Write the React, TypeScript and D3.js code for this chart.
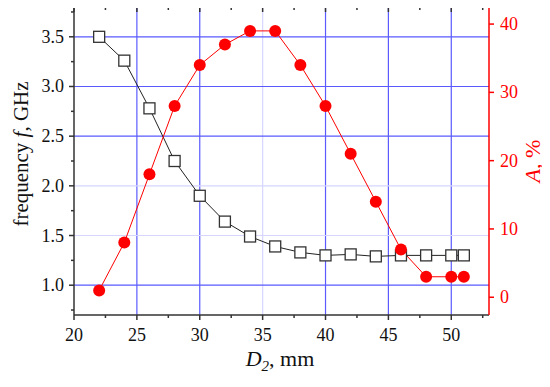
import React, { useRef, useEffect } from 'react';
import * as d3 from 'd3';

const diameters = [22, 24, 26, 28, 30, 32, 34, 36, 38, 40, 42, 44, 46, 48, 50, 51];
const frequency = [3.5, 3.26, 2.78, 2.25, 1.9, 1.64, 1.49, 1.39, 1.33, 1.3, 1.31, 1.29, 1.3, 1.3, 1.3, 1.3];
const absorption = [1, 8, 18, 28, 34, 37, 39, 39, 34, 28, 21, 14, 7, 3, 3, 3];

const xTicks = [20, 25, 30, 35, 40, 45, 50];
const xMinor = [22.5, 27.5, 32.5, 37.5, 42.5, 47.5, 52.5];
const yTicks = [1.0, 1.5, 2.0, 2.5, 3.0, 3.5];
const yMinor = [0.75, 1.25, 1.75, 2.25, 2.75, 3.25, 3.75];
const aTicks = [0, 10, 20, 30, 40];
const strongX = [25, 30, 40, 45, 50];
const strongY = [1.0, 2.5, 3.0, 3.5];

const App = () => {
    const ref = useRef<SVGSVGElement>(null);

    useEffect(() => {
        const svg = d3.select(ref.current);
        svg.selectAll('*').remove();

        const width = 550;
        const height = 387;
        const margin = { top: 7, right: 61, bottom: 72, left: 74 };
        const font = '"Liberation Serif", "Times New Roman", serif';

        const x = d3.scaleLinear().domain([20, 53]).range([margin.left, width - margin.right]);
        const y = d3.scaleLinear().domain([0.7, 3.8]).range([height - margin.bottom, margin.top]);
        const yA = d3.scaleLinear().domain([-2.6, 42.5]).range([height - margin.bottom, margin.top]);

        const top = margin.top;
        const bottom = height - margin.bottom;
        const left = margin.left;
        const right = width - margin.right;

        // grid
        const grid = svg.append('g');
        grid.selectAll('.vg')
            .data(xTicks.filter(t => t > 20))
            .enter()
            .append('line')
            .attr('x1', d => x(d))
            .attr('x2', d => x(d))
            .attr('y1', top)
            .attr('y2', bottom)
            .attr('stroke', d => (strongX.includes(d) ? '#5a5aff' : '#d6d6ff'))
            .attr('stroke-width', 1.2);
        grid.selectAll('.hg')
            .data(yTicks)
            .enter()
            .append('line')
            .attr('x1', left)
            .attr('x2', right)
            .attr('y1', d => y(d))
            .attr('y2', d => y(d))
            .attr('stroke', d => (strongY.includes(d) ? '#5a5aff' : '#d6d6ff'))
            .attr('stroke-width', 1.2);

        // frame
        svg.append('line').attr('x1', left).attr('x2', right).attr('y1', top).attr('y2', top)
            .attr('stroke', '#333').attr('stroke-width', 1.5);
        svg.append('line').attr('x1', left).attr('x2', right).attr('y1', bottom).attr('y2', bottom)
            .attr('stroke', '#333').attr('stroke-width', 1.5);
        svg.append('line').attr('x1', left).attr('x2', left).attr('y1', top).attr('y2', bottom)
            .attr('stroke', '#333').attr('stroke-width', 1.5);
        svg.append('line').attr('x1', right).attr('x2', right).attr('y1', top).attr('y2', bottom)
            .attr('stroke', 'red').attr('stroke-width', 1.5);

        // x ticks (bottom outward, top inward)
        const xt = svg.append('g').attr('stroke', '#333').attr('stroke-width', 1.5);
        xTicks.forEach(t => {
            xt.append('line').attr('x1', x(t)).attr('x2', x(t)).attr('y1', bottom).attr('y2', bottom + 5);
            xt.append('line').attr('x1', x(t)).attr('x2', x(t)).attr('y1', top).attr('y2', top + 5);
        });
        xMinor.forEach(t => {
            xt.append('line').attr('x1', x(t)).attr('x2', x(t)).attr('y1', bottom).attr('y2', bottom + 3);
            xt.append('line').attr('x1', x(t)).attr('x2', x(t)).attr('y1', top).attr('y2', top + 3);
        });
        svg.selectAll('.xl')
            .data(xTicks)
            .enter()
            .append('text')
            .attr('x', d => x(d))
            .attr('y', bottom + 26)
            .attr('text-anchor', 'middle')
            .style('font-family', font)
            .style('font-size', '18px')
            .attr('fill', '#111')
            .text(d => d);

        // left ticks
        const yt = svg.append('g').attr('stroke', '#333').attr('stroke-width', 1.5);
        yTicks.forEach(t => {
            yt.append('line').attr('x1', left - 5).attr('x2', left).attr('y1', y(t)).attr('y2', y(t));
        });
        yMinor.forEach(t => {
            yt.append('line').attr('x1', left - 3).attr('x2', left).attr('y1', y(t)).attr('y2', y(t));
        });
        svg.selectAll('.yl')
            .data(yTicks)
            .enter()
            .append('text')
            .attr('x', left - 10)
            .attr('y', d => y(d) + 6)
            .attr('text-anchor', 'end')
            .style('font-family', font)
            .style('font-size', '18px')
            .attr('fill', '#111')
            .text(d => d.toFixed(1));

        // right ticks
        const at = svg.append('g').attr('stroke', 'red').attr('stroke-width', 1.5);
        aTicks.forEach(t => {
            at.append('line').attr('x1', right).attr('x2', right + 5).attr('y1', yA(t)).attr('y2', yA(t));
        });
        svg.selectAll('.al')
            .data(aTicks)
            .enter()
            .append('text')
            .attr('x', right + 11)
            .attr('y', d => yA(d) + 6)
            .attr('text-anchor', 'start')
            .style('font-family', font)
            .style('font-size', '18px')
            .attr('fill', 'red')
            .text(d => d);

        // titles
        const xTitle = svg.append('text')
            .attr('x', 280)
            .attr('y', 366)
            .attr('text-anchor', 'middle')
            .style('font-family', font)
            .style('font-size', '22px')
            .attr('fill', '#111');
        xTitle.append('tspan').style('font-style', 'italic').text('D');
        xTitle.append('tspan').style('font-style', 'italic').style('font-size', '15px').attr('dy', 5).text('2');
        xTitle.append('tspan').attr('dy', -5).text(', mm');

        const yTitle = svg.append('text')
            .attr('transform', `translate(28, 154) rotate(-90)`)
            .attr('text-anchor', 'middle')
            .style('font-family', font)
            .style('font-size', '21px')
            .attr('fill', '#111');
        yTitle.append('tspan').text('frequency ');
        yTitle.append('tspan').style('font-style', 'italic').text('f');
        yTitle.append('tspan').text(', GHz');

        const aTitle = svg.append('text')
            .attr('transform', `translate(540, 161) rotate(-90)`)
            .attr('text-anchor', 'middle')
            .style('font-family', font)
            .style('font-size', '22px')
            .attr('fill', 'red');
        aTitle.append('tspan').style('font-style', 'italic').text('A');
        aTitle.append('tspan').text(', %');

        // frequency series
        const fLine = d3.line<number>().x((_, i) => x(diameters[i])).y(d => y(d));
        svg.append('path')
            .datum(frequency)
            .attr('d', fLine)
            .attr('fill', 'none')
            .attr('stroke', '#222')
            .attr('stroke-width', 1);

        // absorption series
        const aLine = d3.line<number>().x((_, i) => x(diameters[i])).y(d => yA(d));
        svg.append('path')
            .datum(absorption)
            .attr('d', aLine)
            .attr('fill', 'none')
            .attr('stroke', 'red')
            .attr('stroke-width', 1);

        svg.selectAll('.sq')
            .data(frequency)
            .enter()
            .append('rect')
            .attr('x', (_, i) => x(diameters[i]) - 5.5)
            .attr('y', d => y(d) - 5.5)
            .attr('width', 11)
            .attr('height', 11)
            .attr('fill', 'white')
            .attr('stroke', '#333')
            .attr('stroke-width', 1.3);

        svg.selectAll('.ci')
            .data(absorption)
            .enter()
            .append('circle')
            .attr('cx', (_, i) => x(diameters[i]))
            .attr('cy', d => yA(d))
            .attr('r', 6)
            .attr('fill', 'red');
    }, []);

    return (
        <div style={{ width: 550, height: 387, margin: -8 }}>
            <svg ref={ref} width={550} height={387} style={{ display: 'block', background: 'white' }}></svg>
        </div>
    );
};

export default App;
